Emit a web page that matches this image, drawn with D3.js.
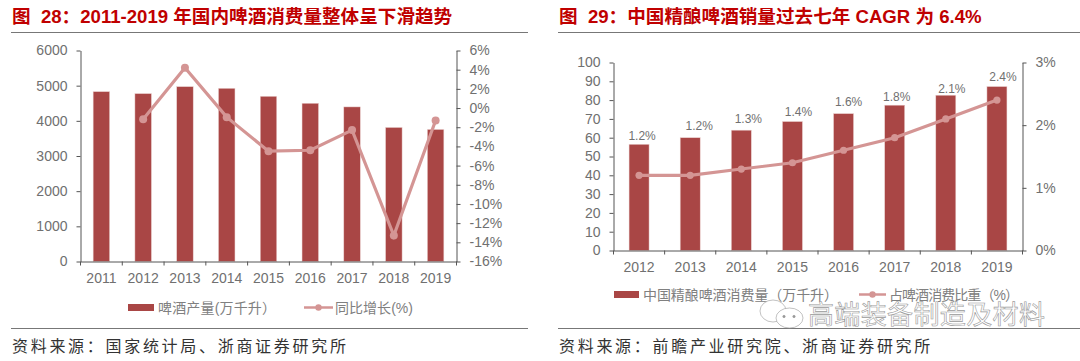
<!DOCTYPE html>
<html><head><meta charset="utf-8">
<script src="https://cdn.jsdelivr.net/npm/d3@7/dist/d3.min.js"></script>
<style>html,body{margin:0;padding:0;background:#fff}svg{display:block}
text{font-family:"Liberation Sans","Noto Sans CJK SC",sans-serif;white-space:pre}</style></head>
<body><svg id="c" width="1080" height="361"></svg>
<script>
const yearsA=["2011","2012","2013","2014","2015","2016","2017","2018","2019"];
const consumption=[4830,4774,4972,4925,4698,4500,4396,3812,3755];
const growth=[null,-1.16,4.2,-0.95,-4.5,-4.4,-2.3,-13.3,-1.3];
const ticksA=[0,1000,2000,3000,4000,5000,6000];
const ticksAR=[-16,-14,-12,-10,-8,-6,-4,-2,0,2,4,6];
const yearsB=["2012","2013","2014","2015","2016","2017","2018","2019"];
const craft=[56.5,60,64,68.6,72.8,77.3,82.6,87.2];
const share=[1.2,1.2,1.3,1.4,1.6,1.8,2.1,2.4];
const ticksB=[0,10,20,30,40,50,60,70,80,90,100];
const ticksBR=[0,1,2,3];
const titleA="图  28：2011-2019 年国内啤酒消费量整体呈下滑趋势";
const titleB="图  29：中国精酿啤酒销量过去七年 CAGR 为 6.4%";
const sourceA="资料来源：国家统计局、浙商证券研究所";
const sourceB="资料来源：前瞻产业研究院、浙商证券研究所";
const legendA=["啤酒产量(万千升）","同比增长(%)"];
const legendB=["中国精酿啤酒消费量（万千升）","占啤酒消费比重（%）"];
const watermark="高端装备制造及材料";

const BAR="#a94645",LINE="#d49594",TXT="#707070",AX="#555",RED="#c00000";
const svg=d3.select("#c");

function panel(o){
  const g=svg.append("g");
  g.append("text").attr("x",o.tx).attr("y",22.5).attr("fill",RED).attr("font-size",18.6)
    .attr("font-weight",700).text(o.title);
  g.append("line").attr("x1",o.rx0).attr("x2",o.rx1).attr("y1",32.5).attr("y2",32.5).attr("stroke","#777");
  g.append("line").attr("x1",o.rx0).attr("x2",o.rx1).attr("y1",328.5).attr("y2",328.5).attr("stroke","#777");
  g.append("text").attr("x",o.tx).attr("y",352).attr("fill","#333").attr("font-size",16)
    .attr("letter-spacing",2.7).text(o.source);

  const x=d3.scaleBand().domain(o.cats).range([o.x0,o.x1]);
  const y=d3.scaleLinear().domain(o.yDom).range([o.y1,o.y0]);
  const yR=d3.scaleLinear().domain(o.rDom).range([o.y1,o.y0]);
  const bw=o.barW;
  g.selectAll(".b").data(o.bars).join("rect")
    .attr("x",(d,i)=>x(o.cats[i])+x.bandwidth()/2-bw/2).attr("width",bw)
    .attr("y",d=>y(d)).attr("height",d=>o.y1-y(d)).attr("fill",BAR)
    .attr("stroke","#ecd3d2").attr("stroke-width",.5);
  const style=(a)=>{a.select(".domain").attr("stroke",AX);a.selectAll("line").attr("stroke",AX);
    a.selectAll("text").attr("fill",TXT).attr("font-size",14).attr("font-family","Liberation Sans");};
  const ax=g.append("g").attr("transform",`translate(0,${o.y1})`)
    .call(d3.axisBottom(x).tickSize(0).tickPadding(12));
  style(ax);
  ax.selectAll(".edge").data(d3.range(o.cats.length+1)).join("line").attr("class","edge")
    .attr("x1",i=>o.x0+i*x.step()).attr("x2",i=>o.x0+i*x.step()).attr("y1",0).attr("y2",4).attr("stroke",AX);
  const al=g.append("g").attr("transform",`translate(${o.x0},0)`)
    .call(d3.axisLeft(y).tickValues(o.yTicks).tickSize(4).tickSizeOuter(0).tickPadding(9).tickFormat(d=>String(d)));
  style(al);
  const ar=g.append("g").attr("transform",`translate(${o.x1},0)`)
    .call(d3.axisRight(yR).tickValues(o.rTicks).tickSize(4).tickSizeOuter(0).tickPadding(9).tickFormat(d=>d+"%"));
  style(ar);

  const pts=o.line.map((v,i)=>({v,c:o.cats[i],bar:o.bars[i],i}));
  const cx=d=>x(d.c)+x.bandwidth()/2;
  const ln=d3.line().defined(d=>d.v!=null).x(cx).y(d=>yR(d.v));
  const valid=pts.filter(d=>d.v!=null);
  g.append("path").attr("d",ln(valid)).attr("fill","none").attr("stroke",LINE).attr("stroke-width",o.lw);
  g.selectAll(".m").data(valid).join("circle")
    .attr("cx",cx).attr("cy",d=>yR(d.v)).attr("r",o.mr).attr("fill",LINE);
  if(o.labDx){
    g.selectAll(".l").data(pts).join("text").attr("text-anchor","middle")
      .attr("x",d=>cx(d)+o.labDx[d.i]).attr("y",d=>y(d.bar)-o.labGap[d.i]).attr("fill",TXT).attr("font-size",12)
      .text(d=>d.v.toFixed(1)+"%");
  }
  const L=o.leg;
  g.append("rect").attr("x",L.bx).attr("y",L.y-3.5).attr("width",L.bw).attr("height",7).attr("fill",BAR);
  g.append("text").attr("x",L.t1).attr("y",L.y+5).attr("fill","#808080").attr("font-size",14)
    .attr("textLength",L.w1).attr("lengthAdjust","spacing").text(o.legend[0]);
  g.append("line").attr("x1",L.lx).attr("x2",L.lx+L.lw).attr("y1",L.y).attr("y2",L.y).attr("stroke",LINE).attr("stroke-width",2.5);
  g.append("circle").attr("cx",L.lx+L.lw/2).attr("cy",L.y).attr("r",3.2).attr("fill",LINE);
  g.append("text").attr("x",L.t2).attr("y",L.y+5).attr("fill","#808080").attr("font-size",14)
    .attr("textLength",L.w2).attr("lengthAdjust","spacing").text(o.legend[1]);
}

panel({title:titleA,source:sourceA,tx:12,rx0:11,rx1:528,cats:yearsA,bars:consumption,line:growth,
  x0:80.5,x1:456.5,y0:50.5,y1:261.5,yDom:[0,6000],rDom:[-16,6],yTicks:ticksA,rTicks:ticksAR,barW:16.5,lw:3.2,mr:4,
  leg:{bx:128,bw:26,t1:158,w1:118,lx:304,lw:29,t2:335,w2:78,y:307.5},legend:legendA});
panel({title:titleB,source:sourceB,tx:559,rx0:558,rx1:1080,cats:yearsB,bars:craft,line:share,
  x0:613.5,x1:1022.5,y0:62.5,y1:250.5,yDom:[0,100],rDom:[0,3],yTicks:ticksB,rTicks:ticksBR,barW:20,lw:3.2,mr:3.6,
  labDx:[3,9,7,6,5,2,6,6],labGap:[3.8,7.3,6.7,5.3,7.3,3.8,2,6],
  leg:{bx:614,bw:25,t1:643,w1:195,lx:859,lw:27,t2:889,w2:130,y:294.5},legend:legendB});

// watermark: outlined text and chat-bubble icon
const w=svg.append("g").attr("fill","#fff").attr("stroke","#999").attr("stroke-width",.6);
w.append("text").attr("x",808).attr("y",324).attr("font-size",26).attr("textLength",237).attr("lengthAdjust","spacing").text(watermark);
w.append("ellipse").attr("cx",773).attr("cy",311).attr("rx",13).attr("ry",11);
w.append("ellipse").attr("cx",789.5).attr("cy",318).attr("rx",13.5).attr("ry",10);
w.selectAll(".eye").data([784,794]).join("circle").attr("cx",d=>d).attr("cy",316.5).attr("r",1.2).attr("fill","#999");
</script></body></html>
